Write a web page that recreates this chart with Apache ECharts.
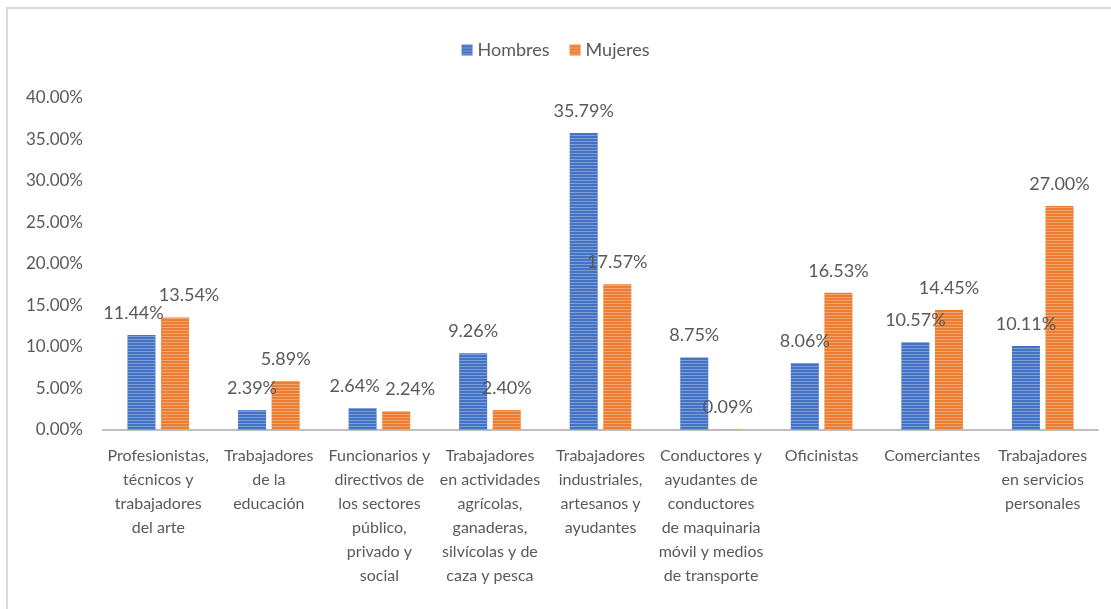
<!DOCTYPE html>
<html>
<head>
<meta charset="utf-8">
<script src="https://cdn.jsdelivr.net/npm/echarts@6/dist/echarts.min.js"></script>
<style>
  html, body { margin: 0; padding: 0; background: #fff; }
  #chart { width: 1111px; height: 609px; }
</style>
</head>
<body>
<div id="chart"></div>
<script>
// categorías (ocupación), con saltos de línea como en el original
const categories = [
  'Profesionistas,\ntécnicos y\ntrabajadores\ndel arte',
  'Trabajadores\nde la\neducación',
  'Funcionarios y\ndirectivos de\nlos sectores\npúblico,\nprivado y\nsocial',
  'Trabajadores\nen actividades\nagrícolas,\nganaderas,\nsilvícolas y de\ncaza y pesca',
  'Trabajadores\nindustriales,\nartesanos y\nayudantes',
  'Conductores y\nayudantes de\nconductores\nde maquinaria\nmóvil y medios\nde transporte',
  'Oficinistas',
  'Comerciantes',
  'Trabajadores\nen servicios\npersonales'
]

// porcentajes por sexo
const hombres = [11.44, 2.39, 2.64, 9.26, 35.79, 8.75, 8.06, 10.57, 10.11]
const mujeres = [13.54, 5.89, 2.24, 2.40, 17.57, 0.09, 16.53, 14.45, 27.00]

const font = 'Lato, "Open Sans", sans-serif'
const grey = '#595959'

// rayas horizontales claras sobre las barras
function stripes(alpha) {
  return {
    symbol: 'rect',
    symbolSize: 1,
    dashArrayX: [1, 0],
    dashArrayY: [1, 2],
    rotation: 0,
    color: 'rgba(255,255,255,' + alpha + ')'
  }
}

// separa las etiquetas cuando las dos barras tienen alturas parecidas
function spreadLabels(params) {
  const i = params.dataIndex
  if (Math.abs(hombres[i] - mujeres[i]) < 2.5) {
    return { dx: params.seriesIndex === 0 ? -8 : 14 }
  }
}

function barSeries(name, data, color) {
  return {
    name: name,
    type: 'bar',
    data: data,
    barWidth: 28,
    barGap: '20%',
    itemStyle: { color: color, decal: stripes(0.3) },
    label: {
      show: true,
      position: 'top',
      distance: 13,
      color: grey,
      fontFamily: font,
      fontSize: 18,
      formatter: p => p.value.toFixed(2) + '%'
    },
    labelLayout: spreadLabels
  }
}

const chart = echarts.init(document.getElementById('chart'))

chart.setOption({
  animation: false,
  aria: { enabled: true, decal: { show: true } },
  textStyle: { fontFamily: font },
  graphic: [{
    type: 'rect',
    shape: { x: 7, y: 8, width: 1120, height: 620 },
    style: { fill: 'none', stroke: '#d9d9d9', lineWidth: 2 },
    silent: true
  }],
  legend: {
    top: 36,
    left: 'center',
    itemWidth: 11,
    itemHeight: 11,
    itemGap: 20,
    icon: 'rect',
    textStyle: { color: grey, fontSize: 18, fontFamily: font },
    data: ['Hombres', 'Mujeres']
  },
  grid: { left: 103, right: 13, top: 98, bottom: 179 },
  xAxis: {
    type: 'category',
    data: categories,
    axisTick: { show: false },
    axisLine: { lineStyle: { color: '#bfbfbf', width: 2 } },
    axisLabel: {
      interval: 0,
      color: grey,
      fontSize: 16,
      lineHeight: 24,
      margin: 14,
      fontFamily: font
    }
  },
  yAxis: {
    type: 'value',
    min: 0,
    max: 40,
    interval: 5,
    splitLine: { show: false },
    axisLine: { show: false },
    axisTick: { show: false },
    axisLabel: {
      color: grey,
      fontSize: 17,
      margin: 20,
      fontFamily: font,
      formatter: v => v.toFixed(2) + '%'
    }
  },
  series: [
    barSeries('Hombres', hombres, '#4472C4'),
    barSeries('Mujeres', mujeres, '#ED7D31')
  ]
})
</script>
</body>
</html>
